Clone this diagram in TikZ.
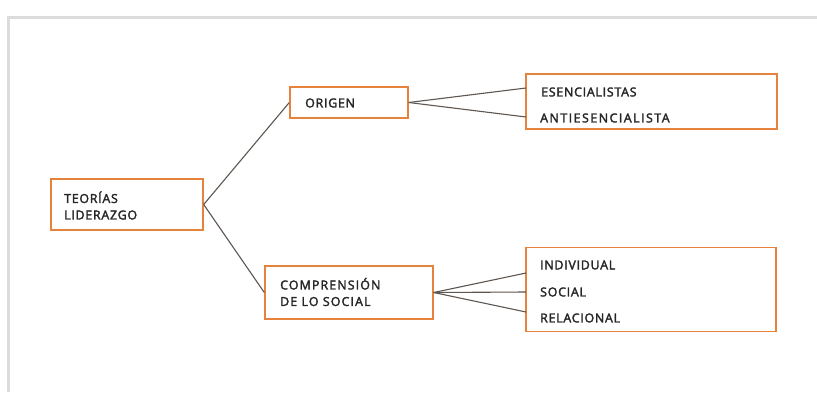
\documentclass[tikz,border=0pt]{standalone}
\usepackage{fontspec}
\setmainfont{Open Sans}[FakeBold=2.4,LetterSpace=6]
\definecolor{boxorange}{HTML}{E5823C}
\definecolor{linegray}{HTML}{5E5650}
\definecolor{txtgray}{HTML}{262626}
\definecolor{framegray}{HTML}{DCDCDC}
\begin{document}
\begin{tikzpicture}[x=1pt,y=-1pt,
  box/.style={draw=boxorange, line width=1.4pt, fill=white, inner sep=0pt, rectangle},
  lbl/.style={anchor=west, inner sep=0pt, text=txtgray, font=\fontsize{12.4}{16.5}\selectfont, align=left},
  conn/.style={draw=linegray, line width=1.1pt}]
\useasboundingbox (0,0) rectangle (817,392);
\fill[white] (0,0) rectangle (817,392);
\draw[framegray, line width=3pt] (8,392) -- (8,17) -- (817,17);
% boxes
\node[box, minimum width=152pt, minimum height=51pt] (teo) at (127,204.5) {};
\node[box, minimum width=118pt, minimum height=31pt] (ori) at (349,102.5) {};
\node[box, minimum width=168pt, minimum height=53pt] (com) at (349,292.5) {};
\node[box, minimum width=251pt, minimum height=55pt] (esb) at (651.5,101.5) {};
\node[box, minimum width=250pt, minimum height=84pt] (inb) at (651,289.5) {};
% texts
\node[lbl] (teot) at (64,205.5) {TEORÍAS\\LIDERAZGO};
\node[lbl] (orit) at (305,103) {ORIGEN};
\node[lbl] (comt) at (280,292) {\addfontfeature{LetterSpace=9}COMPRENSIÓN\\\addfontfeature{LetterSpace=9}DE LO SOCIAL};
\node[lbl] (es1) at (541,92) {ESENCIALISTAS};
\node[lbl] (es2) at (540,118) {\addfontfeature{LetterSpace=12}ANTIESENCIALISTA};
\node[lbl] (in1) at (540,265) {INDIVIDUAL};
\node[lbl] (in2) at (540,292) {SOCIAL};
\node[lbl] (in3) at (540,318) {RELACIONAL};
% connectors
\coordinate (e1) at (526,88);
\coordinate (e2) at (526,117);
\coordinate (i1) at (526,273);
\coordinate (i2) at (526,292);
\coordinate (i3) at (526,312);
\draw[conn] (teo.east) -- (ori.west);
\draw[conn] (teo.east) -- (com.west);
\draw[conn] (ori.east) -- (e1);
\draw[conn] (ori.east) -- (e2);
\draw[conn] (com.east) -- (i1);
\draw[conn] (com.east) -- (i2);
\draw[conn] (com.east) -- (i3);
\end{tikzpicture}
\end{document}
